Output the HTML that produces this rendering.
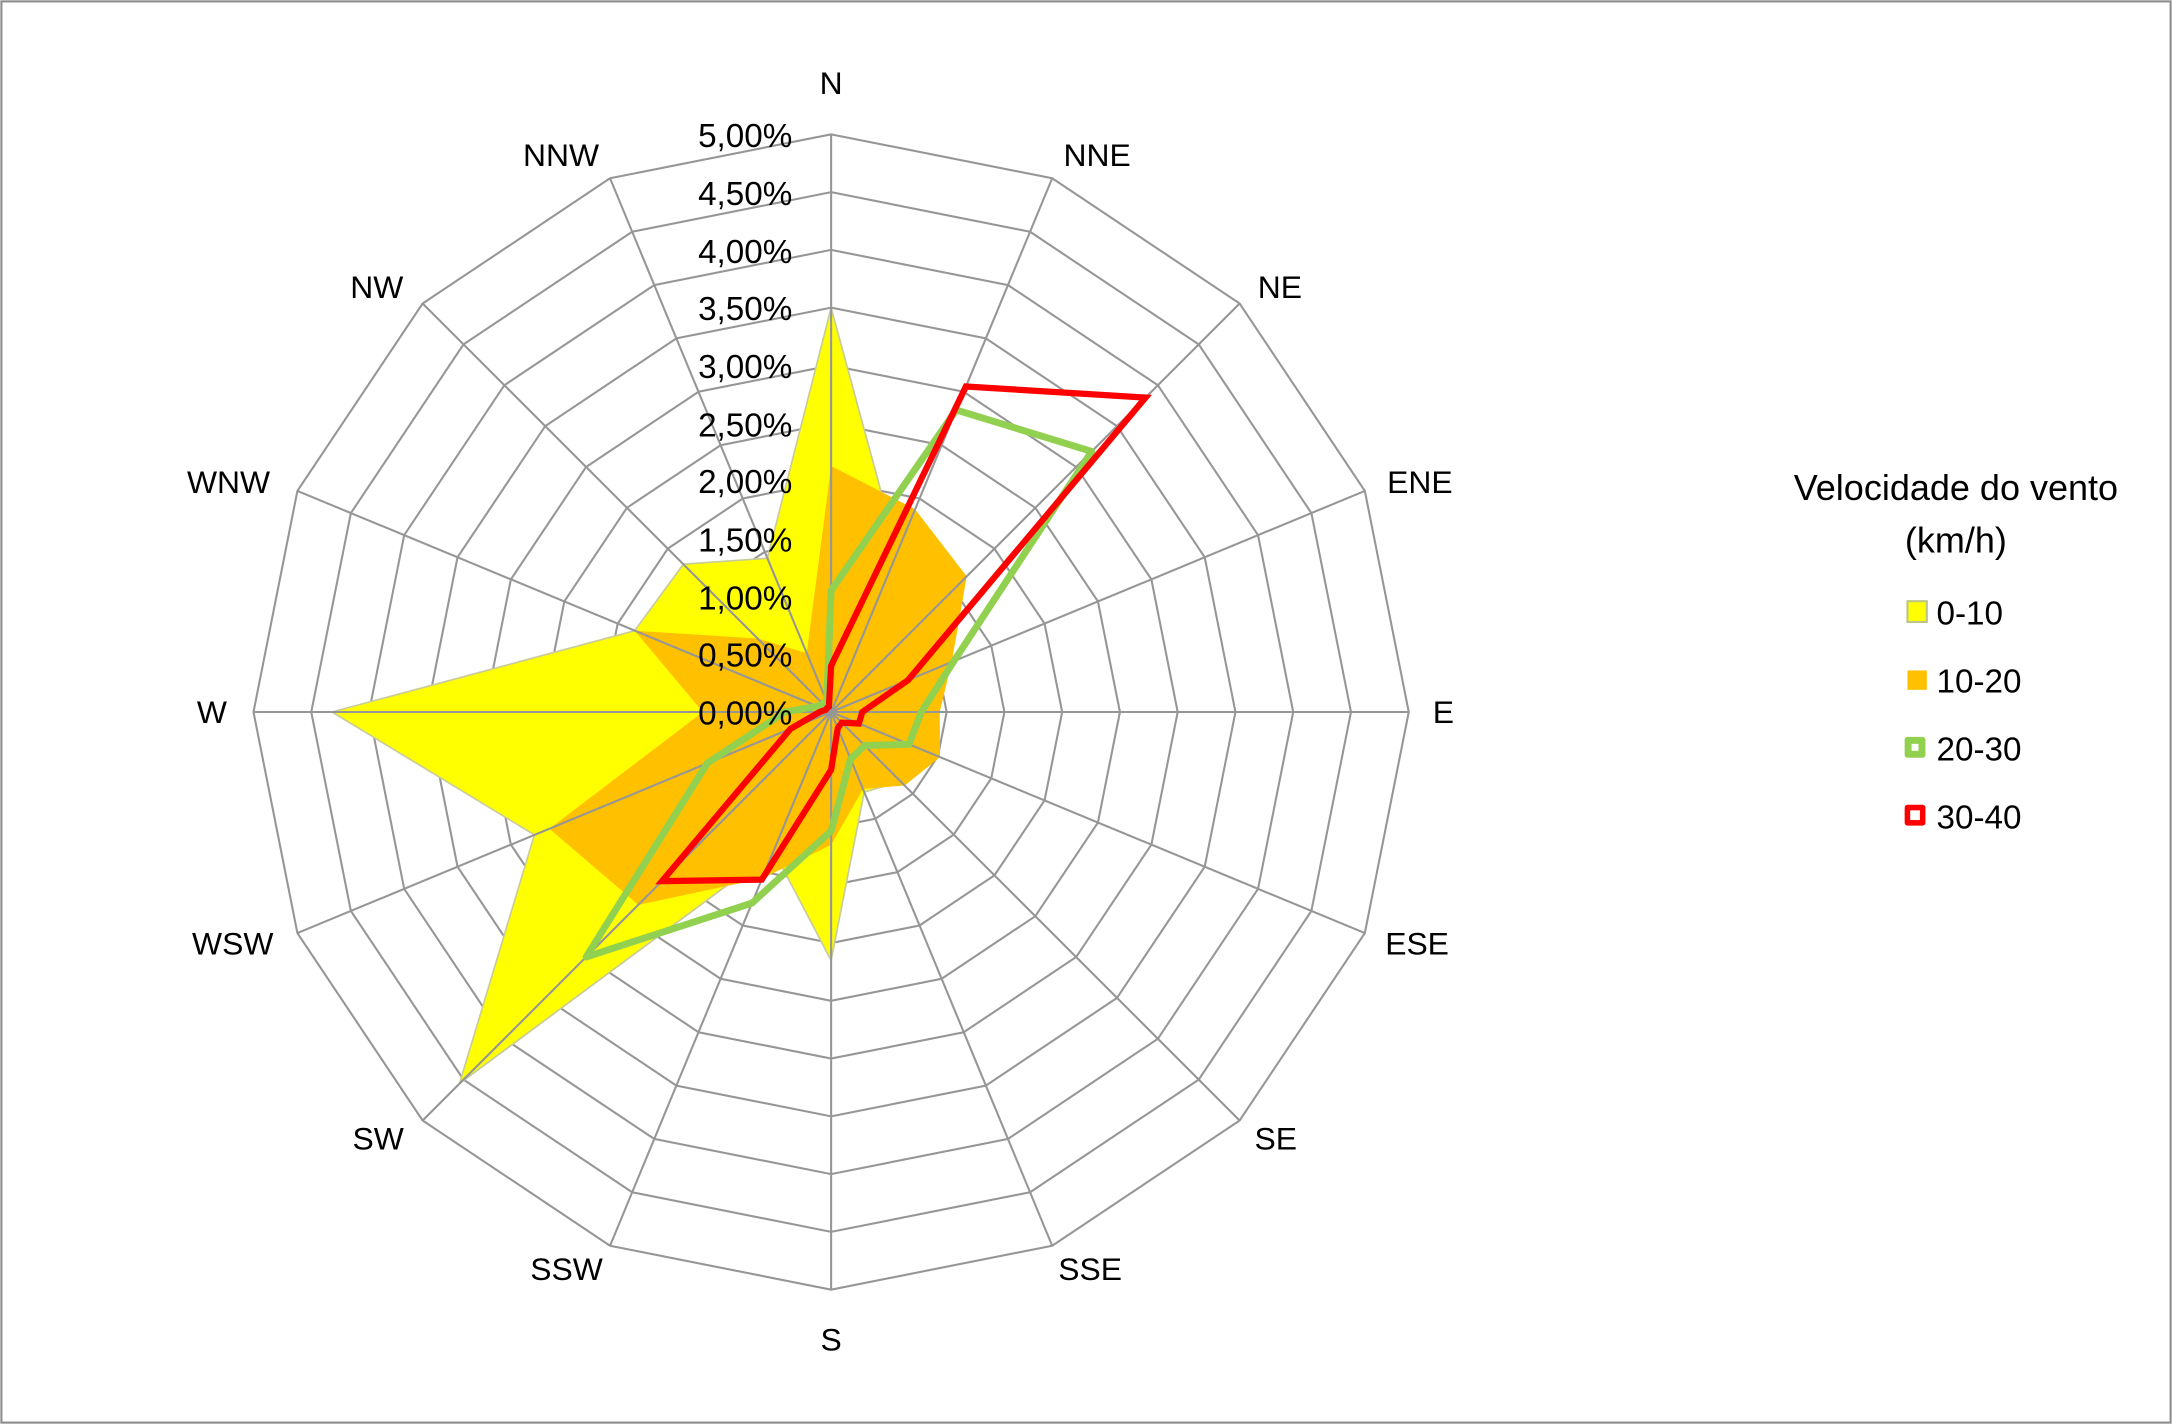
<!DOCTYPE html>
<html><head><meta charset="utf-8"><style>
html,body{margin:0;padding:0;background:#fff;}
svg{display:block;}
text{font-family:"Liberation Sans",sans-serif;fill:#000;}
</style></head><body>
<svg id="s" width="2172" height="1424" viewBox="0 0 1568 1028" xmlns="http://www.w3.org/2000/svg">
<rect x="1" y="1" width="1566" height="1026" fill="#fff" stroke="#8c8c8c" stroke-width="1.5"/>
<g id="rings"></g>
<g id="fills"></g>
<g id="spokes"></g>
<g id="lines"></g>
<g font-size="24" text-anchor="end">
<text x="572" y="106">5,00%</text><text x="572" y="148">4,50%</text><text x="572" y="190">4,00%</text>
<text x="572" y="231">3,50%</text><text x="572" y="273">3,00%</text><text x="572" y="315">2,50%</text>
<text x="572" y="356">2,00%</text><text x="572" y="398">1,50%</text><text x="572" y="440">1,00%</text>
<text x="572" y="481">0,50%</text><text x="572" y="523">0,00%</text>
</g>
<g font-size="23" text-anchor="middle">
<text x="600" y="68">N</text><text x="792" y="120">NNE</text><text x="924" y="215">NE</text>
<text x="1025" y="356">ENE</text><text x="1042" y="522">E</text><text x="1023" y="689">ESE</text>
<text x="921" y="830">SE</text><text x="787" y="924">SSE</text><text x="600" y="975">S</text>
<text x="409" y="924">SSW</text><text x="273" y="830">SW</text><text x="168" y="689">WSW</text>
<text x="153" y="522">W</text><text x="165" y="356">WNW</text><text x="272" y="215">NW</text>
<text x="405" y="120">NNW</text>
</g>
<g font-size="26" text-anchor="middle">
<text x="1412" y="361">Velocidade do vento</text>
<text x="1412" y="399">(km/h)</text>
</g>
<g font-size="24">
<rect x="1377" y="434" width="14" height="15" fill="#ffff00" stroke="#bbc58a" stroke-width="1.5"/>
<text x="1398" y="451">0-10</text>
<rect x="1377" y="484" width="14" height="14" fill="#ffc000"/>
<text x="1398" y="500">10-20</text>
<rect x="1375" y="532" width="15" height="15" rx="2" fill="#92d050"/><rect x="1380" y="537" width="5" height="5" fill="#fff"/>
<text x="1398" y="549">20-30</text>
<rect x="1375" y="581" width="15" height="15" rx="2" fill="#ff0000"/><rect x="1379" y="585" width="7" height="7" fill="#fff"/>
<text x="1398" y="598">30-40</text>
</g>
</svg>
<script>
var cx=600,cy=514,k=83.4,NS="http://www.w3.org/2000/svg";
function pt(i,v){var a=i*Math.PI/8;return [(cx+v*k*Math.sin(a)).toFixed(1),(cy-v*k*Math.cos(a)).toFixed(1)];}
function poly(vals){return vals.map(function(v,i){return pt(i,v).join(",");}).join(" ");}
function add(g,tag,attrs){var e=document.createElementNS(NS,tag);for(var a in attrs)e.setAttribute(a,attrs[a]);document.getElementById(g).appendChild(e);}
for(var r=1;r<=10;r++){var v=[];for(var i=0;i<16;i++)v.push(r*0.5);add("rings","polygon",{points:poly(v),fill:"none",stroke:"#969696","stroke-width":1.5});}
var Y=[3.5,1.5,1.0,0.8,0.7,0.9,0.85,0.75,2.15,1.3,4.55,2.78,4.32,1.84,1.81,1.44];
var O=[2.13,1.9,1.66,1.13,0.94,1.02,0.9,0.72,1.15,1.56,2.36,2.64,1.11,1.84,0.9,0.55];
var G=[1.05,2.83,3.19,1.15,0.78,0.73,0.41,0.44,1.03,1.79,3.0,1.16,0.4,0.13,0.1,0.1];
var R=[0.4,3.05,3.85,0.72,0.27,0.26,0.13,0.15,0.5,1.57,2.07,0.38,0.1,0.05,0.05,0.05];
add("fills","polygon",{points:poly(Y),fill:"#ffff00",stroke:"#c8cc9a","stroke-width":1.2});
add("fills","polygon",{points:poly(O),fill:"#ffc000"});
for(var i=0;i<16;i++){var p=pt(i,5);add("spokes","line",{x1:cx,y1:cy,x2:p[0],y2:p[1],stroke:"#969696","stroke-width":1.5});}
add("lines","polygon",{points:poly(G),fill:"none",stroke:"#92d050","stroke-width":5,"stroke-linejoin":"round"});
add("lines","polygon",{points:poly(R),fill:"none",stroke:"#ff0000","stroke-width":4.5,"stroke-linejoin":"miter"});
</script>
</body></html>
